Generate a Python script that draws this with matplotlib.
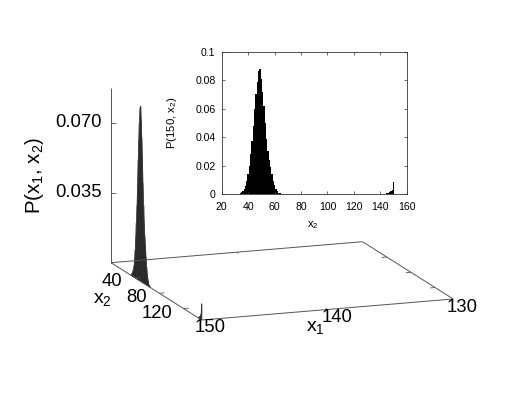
import matplotlib
matplotlib.use("Agg")
from matplotlib import pyplot as plt

plt.rcParams['font.family'] = ['Liberation Sans', 'DejaVu Sans']
plt.rcParams['mathtext.default'] = 'regular'

# P(150, x2)
x2_vals = [33, 34, 35, 36, 37, 38, 39, 40, 41, 42, 43, 44, 45, 46, 47, 48, 49,
           50, 51, 52, 53, 54, 55, 56, 57, 58, 59, 60, 61, 62, 63, 64, 65,
           144, 145, 146, 147, 148, 149, 150]
p_vals = [0.0003, 0.0007, 0.0013, 0.0022, 0.0035, 0.0055, 0.009, 0.014, 0.020,
          0.028, 0.037, 0.048, 0.060, 0.070, 0.079, 0.0865, 0.0878,
          0.081, 0.072, 0.062, 0.050, 0.039, 0.030, 0.024, 0.019, 0.014, 0.009,
          0.006, 0.0035, 0.002, 0.001, 0.0005, 0.0002,
          0.0002, 0.0004, 0.0006, 0.0012, 0.0018, 0.003, 0.0082]

x1_ticks = [150, 140, 130]
x2_ticks = [40, 80, 120]
z_ticks = [0.035, 0.070]
inset_xticks = [20, 40, 60, 80, 100, 120, 140, 160]
inset_yticks = [0, 0.02, 0.04, 0.06, 0.08, 0.1]
inset_ylabels = ["0", "0.02", "0.04", "0.06", "0.08", "0.1"]

W, H = 518, 409
LINE = "#555555"


def proj(x1, x2, z=0):
    # floor of the box mapped to pixels, gnuplot style view
    u = (150 - x1) / 20
    v = x2 / 150
    px = 111 + 90.7 * v + 251.5 * u
    py = 262.7 + 57.3 * v - 21 * u - z * 2000
    return px, py


def seg(a, b, lw=0.7, color=LINE, zorder=3):
    ax.plot([a[0], b[0]], [a[1], b[1]], color=color, lw=lw, zorder=zorder, solid_capstyle="butt")


fig = plt.figure(figsize=(W / 100, H / 100), dpi=100)

ax = fig.add_axes([0, 0, 1, 1])
ax.set_xlim(0, W)
ax.set_ylim(H, 0)
ax.axis("off")

# surface, only the x1 = 150 slice sticks out of the floor
peak = [(x, p) for x, p in zip(x2_vals, p_vals) if x < 100]
spike = [(x, p) for x, p in zip(x2_vals, p_vals) if x >= 100]
for part in (peak, spike):
    outline = [proj(150, part[0][0])]
    for x, p in part:
        outline.append(proj(150, x, p))
    outline.append(proj(150, part[-1][0]))
    ax.fill([o[0] for o in outline], [o[1] for o in outline], color="#3c3c3c", lw=0.5, zorder=2)
    for x, p in part:
        seg(proj(150, x), proj(150, x, p), lw=0.35, color="#222222", zorder=2)

# box
seg(proj(150, 0), proj(150, 150))
seg(proj(150, 150), proj(130, 150))
seg(proj(130, 150), proj(130, 0))
seg(proj(130, 0), proj(150, 0))
seg(proj(150, 0), proj(150, 0, 0.0872))

for x in x2_ticks:
    seg(proj(150, x), proj(149.6, x), lw=0.6)
    seg(proj(130, x), proj(130.4, x), lw=0.6)
seg(proj(140, 0), proj(140, 3), lw=0.6)
seg(proj(140, 150), proj(140, 147), lw=0.6)
for z in z_ticks:
    seg(proj(150, 0, z), (proj(150, 0, z)[0] + 5, proj(150, 0, z)[1]), lw=0.6)

big = 13.3
for z in z_ticks:
    ax.text(101.7, proj(150, 0, z)[1], f"{z:.3f}", fontsize=big, ha="right", va="center")
for x, pos in zip(x2_ticks, [(112, 281.7), (137, 298), (157, 313.7)]):
    ax.text(pos[0], pos[1], str(x), fontsize=big, ha="center", va="center")
for x, pos in zip(x1_ticks, [(210, 328), (337, 318), (461.7, 307)]):
    ax.text(pos[0], pos[1], str(x), fontsize=big, ha="center", va="center")
ax.text(102.5, 300, "x$_2$", fontsize=14, ha="center", va="center")
ax.text(315, 327, "x$_1$", fontsize=14, ha="center", va="center")
ax.text(35, 175, "P(x$_1$, x$_2$)", fontsize=14.8, rotation=90, ha="center", va="center")

# inset
left, right, top, bottom = 221.7, 406.7, 51.7, 194
ins = fig.add_axes([left / W, 1 - bottom / H, (right - left) / W, (bottom - top) / H])
ins.bar(x2_vals, p_vals, width=1, color="black", lw=0)
ins.set_xlim(20, 160)
ins.set_ylim(0, 0.1)
ins.set_xticks(inset_xticks)
ins.set_yticks(inset_yticks)
ins.set_yticklabels(inset_ylabels)
ins.tick_params(direction="in", top=True, right=True, length=2.2, width=0.5,
                labelsize=7.6, color="#333333")
ins.tick_params(axis="x", pad=6)
ins.tick_params(axis="y", pad=4.5)
for s in ins.spines.values():
    s.set_linewidth(0.6)
    s.set_color("#333333")
fig.text(313 / W, 1 - 225 / H, "x$_2$", fontsize=8, ha="center", va="center")
fig.text(171.7 / W, 1 - 123 / H, "P(150, x$_2$)", fontsize=8.2, rotation=90, ha="center", va="center")

fig.savefig("out.png", dpi=100)
